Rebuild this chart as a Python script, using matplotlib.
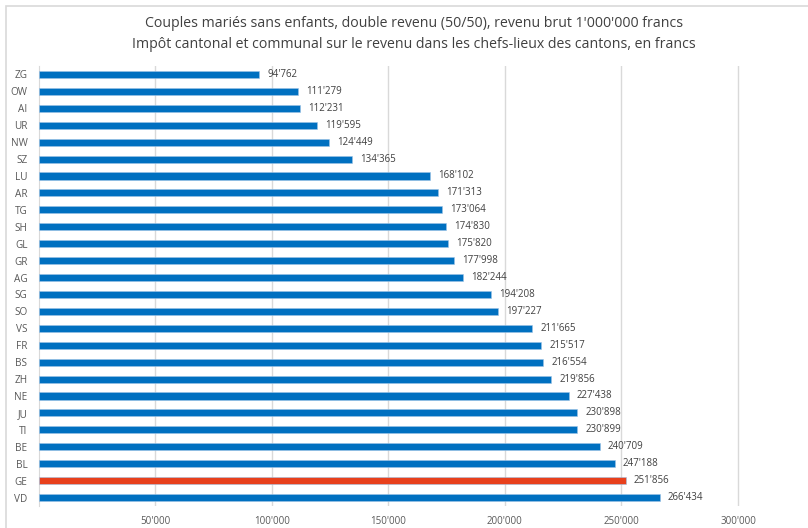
import matplotlib.pyplot as plt
from matplotlib.patches import Rectangle

plt.rcParams['font.family'] = ['Open Sans', 'DejaVu Sans']

cantons = ["ZG", "OW", "AI", "UR", "NW", "SZ", "LU", "AR", "TG", "SH", "GL", "GR", "AG",
           "SG", "SO", "VS", "FR", "BS", "ZH", "NE", "JU", "TI", "BE", "BL", "GE", "VD"]
impot = [94762, 111279, 112231, 119595, 124449, 134365, 168102, 171313, 173064, 174830,
         175820, 177998, 182244, 194208, 197227, 211665, 215517, 216554, 219856, 227438,
         230898, 230899, 240709, 247188, 251856, 266434]
highlight = "GE"
xticks = [50000, 100000, 150000, 200000, 250000, 300000]

title = ("Couples mariés sans enfants, double revenu (50/50), revenu brut 1'000'000 francs\n"
         "Impôt cantonal et communal sur le revenu dans les chefs-lieux des cantons, en francs")

blue = "#0070C0"
red = "#E8401C"
text_col = "#595959"


def swiss(v):
    return f"{v:,}".replace(",", "'")


W, H = 808, 528
fig = plt.figure(figsize=(W / 100, H / 100), dpi=100)
fig.patch.set_facecolor("white")

# chart frame (only top and left edges fall inside the image)
fig.patches.append(Rectangle((6 / W, -0.1), 1.2, (H - 6) / H + 0.1, transform=fig.transFigure,
                             fill=False, edgecolor="#D9D9D9", linewidth=1.2, clip_on=False))

ax = fig.add_axes([38.5 / W, (H - 506) / H, (W - 38.5) / W, 440 / H])

colors = [red if c == highlight else blue for c in cantons]
ypos = list(range(len(cantons)))
ax.barh(ypos, impot, height=0.42, color=colors, edgecolor="#9DC3E6", linewidth=0.4, zorder=3)
for y, v in zip(ypos, impot):
    ax.text(v + 3500, y, swiss(v), va="center", ha="left", fontsize=7, color="#404040")

ax.set_ylim(len(cantons) - 0.5, -0.5)
ax.set_xlim(0, 330000)
ax.set_yticks(ypos)
ax.set_yticklabels(cantons, fontsize=7.2, color=text_col)
ax.set_xticks(xticks)
ax.set_xticklabels([swiss(t) for t in xticks], fontsize=7, color=text_col)
ax.tick_params(length=0, pad=7)
ax.tick_params(axis="y", pad=8)
ax.grid(axis="x", color="#D9D9D9", linewidth=1, zorder=0)
for s in ["top", "right", "bottom"]:
    ax.spines[s].set_visible(False)
ax.spines["left"].set_color("#D9D9D9")

fig.text(414 / W, 1 - 34 / H, title, ha="center", va="center", fontsize=10.2,
         color="#404040", linespacing=1.6)

fig.savefig("out.png", dpi=100)
